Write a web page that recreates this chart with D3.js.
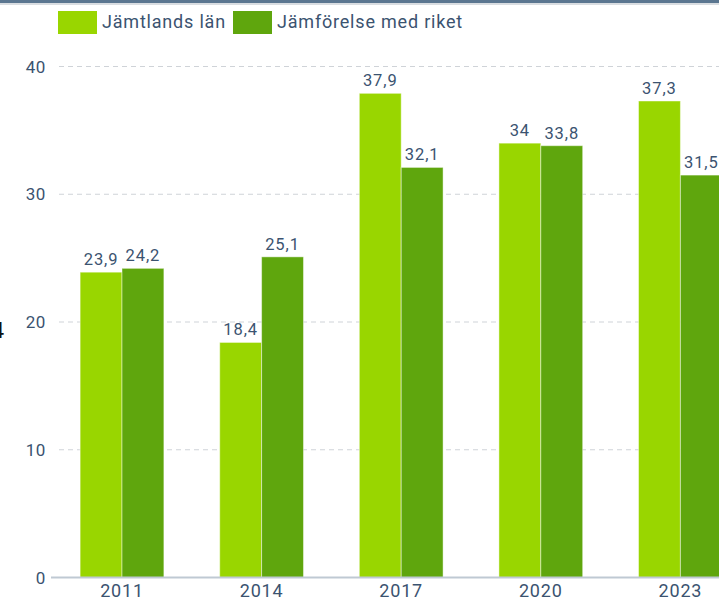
<!DOCTYPE html>
<html>
<head>
<meta charset="utf-8">
<script src="https://cdn.jsdelivr.net/npm/d3@7"></script>
<style>
  html, body { margin: 0; padding: 0; background: #fff; overflow: hidden; }
  svg { display: block; font-family: Roboto, "Noto Sans", sans-serif; }
</style>
</head>
<body>
<svg id="chart" width="719" height="601"></svg>
<script>
// Andel (%) per valår – Jämtlands län jämfört med riket
const years = ["2011", "2014", "2017", "2020", "2023"];
const seriesNames = ["Jämtlands län", "Jämförelse med riket"];
const jamtland = [23.9, 18.4, 37.9, 34, 37.3];
const riket = [24.2, 25.1, 32.1, 33.8, 31.5];
const yTicks = [0, 10, 20, 30, 40];
const colors = ["#99d600", "#5fa60d"];

const textColor = "#3b5370";
const svg = d3.select("#chart");
const W = 719, H = 601;

// page header strip
svg.append("rect").attr("x", 0).attr("y", 0).attr("width", W).attr("height", 3).attr("fill", "#5b7690");
svg.append("rect").attr("x", 0).attr("y", 3).attr("width", W).attr("height", 2).attr("fill", "#d9dde1");

const x = d3.scaleBand().domain(years).range([52.2, 750.2]).paddingInner(0.4).paddingOuter(0.2);
const xs = d3.scaleBand().domain(seriesNames).range([0, x.bandwidth()]);
const y = d3.scaleLinear().domain([0, 40]).range([577.5, 66.5]);

// grid lines
svg.append("g").selectAll("line").data(yTicks.filter(t => t > 0)).join("line")
  .attr("x1", 59).attr("x2", W + 40)
  .attr("y1", d => y(d)).attr("y2", d => y(d))
  .attr("stroke", "#cfd3d8").attr("stroke-width", 1).attr("stroke-dasharray", "5,4");

// y tick labels
svg.append("g").selectAll("text").data(yTicks).join("text")
  .attr("x", 46).attr("y", d => y(d)).attr("dy", "0.36em")
  .attr("text-anchor", "end").attr("fill", textColor).attr("font-size", 17)
  .attr("letter-spacing", 0.6)
  .text(d => d);

// bars
const data = years.map((yr, i) => ({ year: yr, values: [jamtland[i], riket[i]] }));
const groups = svg.append("g").selectAll("g").data(data).join("g")
  .attr("transform", d => `translate(${x(d.year)},0)`);

groups.selectAll("rect").data(d => d.values.map((v, k) => ({ v, k }))).join("rect")
  .attr("x", d => xs(seriesNames[d.k]))
  .attr("y", d => y(d.v))
  .attr("width", xs.bandwidth())
  .attr("height", d => y(0) - y(d.v))
  .attr("fill", d => colors[d.k])
  .attr("stroke", "rgba(255,255,255,0.45)").attr("stroke-width", 1);

const fmt = v => String(v).replace(".", ",");
groups.selectAll("text").data(d => d.values.map((v, k) => ({ v, k }))).join("text")
  .attr("x", d => xs(seriesNames[d.k]) + xs.bandwidth() / 2)
  .attr("y", d => y(d.v) - 7)
  .attr("text-anchor", "middle").attr("fill", textColor).attr("font-size", 16.5)
  .attr("letter-spacing", 0.9)
  .text(d => fmt(d.v));

// x axis line
svg.append("line").attr("x1", 51).attr("x2", W + 40)
  .attr("y1", y(0)).attr("y2", y(0))
  .attr("stroke", "#bfc9d3").attr("stroke-width", 2);

// x tick labels
svg.append("g").selectAll("text").data(years).join("text")
  .attr("x", d => x(d) + x.bandwidth() / 2).attr("y", 597)
  .attr("text-anchor", "middle").attr("fill", textColor).attr("font-size", 18)
  .attr("letter-spacing", 0.8)
  .text(d => d);

// legend
const legend = svg.append("g");
const legendX = [58, 233];
seriesNames.forEach((name, i) => {
  legend.append("rect").attr("x", legendX[i]).attr("y", 11).attr("width", 39).attr("height", 23)
    .attr("fill", colors[i]);
  legend.append("text").attr("x", legendX[i] + 44).attr("y", 28)
    .attr("fill", textColor).attr("font-size", 18).attr("letter-spacing", 0.8).text(name);
});

// stray character at the left margin
svg.append("text").attr("x", 4).attr("y", 338).attr("text-anchor", "end")
  .attr("fill", "#111").attr("font-size", 22).text("4");
</script>
</body>
</html>
